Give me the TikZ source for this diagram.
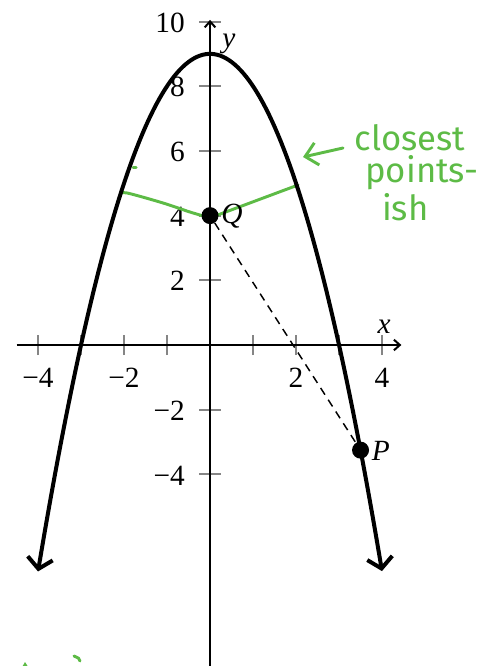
\documentclass[tikz,border=0pt]{standalone}
\usepackage{fontspec}
\setmainfont{Liberation Serif}
\newfontfamily\penfont{Fira Sans}
\usetikzlibrary{arrows.meta}
\definecolor{PenGreen}{HTML}{5DBB46}
\definecolor{TickGray}{HTML}{858585}
\tikzset{
  axisline/.style={line width=1.5pt,draw=black},
  axisarrow/.style={-{Straight Barb[length=4.5pt,width=8pt]}},
  tickmark/.style={line width=1.5pt,draw=TickGray},
  curveline/.style={{Straight Barb[length=8pt,width=19pt]}-{Straight Barb[length=8pt,width=19pt]},line width=3pt,draw=black},
  penline/.style={line width=2.2pt,draw=PenGreen,line cap=round,line join=round},
  penarrow/.style={-{Straight Barb[length=9pt,width=17pt]},line width=2.2pt,draw=PenGreen,line cap=round},
  pentext/.style={font=\penfont\fontsize{26}{28}\selectfont,text=PenGreen,anchor=base},
  dashline/.style={dashed,dash pattern=on 6pt off 4.5pt,line width=1.1pt,draw=black},
  dot/.style={circle,fill=black,minimum size=12.75pt,inner sep=0pt}
}
\begin{document}
\begin{tikzpicture}[x=32.25pt,y=24.26pt,font=\fontsize{22}{26}\selectfont]
\useasboundingbox (-4.884,-9.923) rectangle (6.581,10.665);
\clip (-4.884,-9.923) rectangle (6.581,10.665);
\foreach \t in {-4,-3,-2,-1,1,2,3,4}
  \draw[tickmark] (\t,-0.31) -- (\t,0.31);
\foreach \t in {-4,-2,2,4,6,8,10}
  \draw[tickmark] (-0.256,\t) -- (0.256,\t);
\draw[axisline,axisarrow] (-4.5,0) -- (4.45,0);
\draw[axisline,axisarrow] (0,-10.5) -- (0,10.05);
\foreach \t/\s [count=\i] in {-4/−4,-2/−2,2/2,4/4}
  \node[anchor=base] (xlab\i) at (\t,-1.30) {\s};
\foreach \t/\s [count=\i] in {-4/−4,-2/−2,2/2,4/4,6/6,8/8,10/10}
  \node[anchor=base east,inner sep=0pt] (ylab\i) at (-0.58,\t-0.33) {\s};
\node[anchor=base] (xname) at (4.05,0.37) {\textit{x}};
\node[anchor=base] (yname) at (0.44,9.2) {\textit{y}};
\draw[penline] plot[smooth] coordinates {(-2.093,4.668) (-1.93,4.70) (-1.093,4.39) (-0.465,4.11) (0,3.93)}
  -- (2.047,4.946);
\draw[penline] (-1.79,5.50) -- (-1.72,5.50);
\draw[curveline] plot[domain=-4:4,samples=120] (\x,{9-(\x)*(\x)});
\node[dot] (Q) at (0,4) {};
\node[dot] (P) at (3.5,-3.25) {};
\draw[dashline] (Q) -- (P);
\node[anchor=base west,inner sep=0pt] (Qlab) at (0.26,3.77) {\textit{Q}};
\node[anchor=base west,inner sep=0pt] (Plab) at (3.76,-3.555) {\textit{P}};
\node[pentext] (note1) at (4.65,6.00) {closest};
\node[pentext] (note2) at (4.93,5.01) {points-};
\node[pentext] (note3) at (4.54,3.86) {ish};
\coordinate (noteStart) at (3.093,6.09);
\coordinate (noteTip) at (2.163,5.811);
\draw[penarrow] (noteStart) -- (noteTip);
\fill[PenGreen] (-4.36,-9.93) -- (-4.302,-9.80) -- (-4.24,-9.93) -- cycle;
\draw[penline] (-3.163,-9.614) -- (-3.06,-9.68) -- (-3.023,-9.768);
\end{tikzpicture}
\end{document}
